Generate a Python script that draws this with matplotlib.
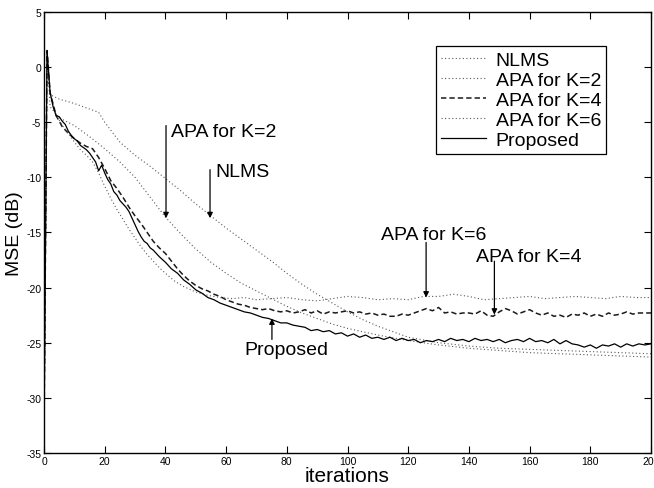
import matplotlib
matplotlib.use("Agg")
import matplotlib.pyplot as plt
from matplotlib import font_manager

# ---------------- data ----------------
nlms_x = [0, 1, 2, 5, 10, 15, 18, 20, 25, 30, 35, 40, 45, 50, 55, 60, 65, 70, 75, 80,
          85, 90, 95, 100, 105, 110, 115, 120, 130, 140, 150, 160, 170, 180, 190, 200]
nlms_y = [-33, 1.5, -2.5, -2.9, -3.3, -3.8, -4.1, -5.0, -6.8, -8.0, -9.0, -10.1, -11.2,
          -12.4, -13.5, -14.6, -15.6, -16.6, -17.6, -18.7, -19.7, -20.6, -21.4, -22.2,
          -22.9, -23.5, -24.0, -24.5, -25.0, -25.3, -25.5, -25.6, -25.7, -25.8, -25.9, -26.0]

apa2_x = [0, 1, 2, 5, 10, 15, 20, 25, 30, 35, 40, 45, 50, 55, 60, 65, 70, 75, 80, 85,
          90, 95, 100, 110, 120, 130, 140, 150, 160, 170, 180, 190, 200]
apa2_y = [-33, 1.5, -3.6, -4.6, -5.3, -6.3, -7.4, -8.6, -10.0, -11.8, -13.6, -15.1,
          -16.5, -17.7, -18.7, -19.6, -20.3, -21.0, -21.7, -22.3, -22.8, -23.3, -23.7,
          -24.3, -24.8, -25.2, -25.5, -25.7, -25.9, -26.0, -26.1, -26.2, -26.3]

apa4_x = [0, 1, 2, 4, 6, 8, 10, 12, 14, 16, 18, 20, 22, 24, 26, 28, 30, 32, 34, 36, 38,
          40, 42, 44, 46, 48, 50, 52, 54, 56, 58, 60, 62, 64, 66, 68, 70, 72, 74, 76,
          78, 80, 82, 84, 86, 88, 90, 92, 94, 96, 98, 100, 102, 104, 106, 108, 110,
          112, 114, 116, 118, 120, 122, 124, 126, 128, 130, 132, 134, 136, 138, 140,
          142, 144, 146, 148, 150, 152, 154, 156, 158, 160, 162, 164, 166, 168, 170,
          172, 174, 176, 178, 180, 182, 184, 186, 188, 190, 192, 194, 196, 198, 200]
apa4_y = [-33, 1.5, -2.3, -4.4, -5.4, -6.0, -6.5, -6.9, -7.2, -7.4, -8.2, -9.2, -10.3,
          -11.0, -11.8, -12.7, -13.5, -14.2, -15.0, -15.8, -16.4, -16.9, -17.6, -18.3,
          -18.9, -19.4, -19.8, -20.1, -20.3, -20.6, -20.8, -21.1, -21.3, -21.5, -21.6,
          -21.8, -21.9, -22.0, -21.9, -22.1, -22.2, -22.1, -22.3, -22.2, -22.0, -22.3,
          -22.1, -22.4, -22.2, -22.3, -22.2, -22.1, -22.3, -22.2, -22.4, -22.3, -22.5,
          -22.4, -22.6, -22.6, -22.4, -22.5, -22.3, -22.1, -21.9, -22.1, -21.8, -22.3,
          -22.2, -22.4, -22.3, -22.3, -22.4, -22.1, -22.5, -22.6, -22.2, -21.9, -22.1,
          -22.4, -22.2, -22.0, -22.3, -22.5, -22.3, -22.6, -22.5, -22.7, -22.4, -22.5,
          -22.3, -22.6, -22.4, -22.6, -22.3, -22.5, -22.4, -22.2, -22.4, -22.3, -22.3,
          -22.3]

apa6_x = [0, 1, 2, 4, 6, 8, 10, 12, 14, 16, 18, 20, 22, 24, 26, 28, 30, 32, 34, 36, 38,
          40, 43, 46, 50, 54, 58, 62, 66, 70, 75, 80, 85, 90, 95, 100, 105, 110, 115,
          120, 125, 130, 135, 140, 145, 150, 155, 160, 165, 170, 175, 180, 185, 190,
          195, 200]
apa6_y = [-33, 1.5, -2.4, -4.3, -5.3, -6.0, -6.8, -7.5, -8.0, -8.6, -9.6, -10.8, -11.9,
          -12.9, -13.8, -14.7, -15.5, -16.3, -17.0, -17.6, -18.2, -18.7, -19.4, -19.9,
          -20.4, -20.7, -20.9, -21.0, -20.9, -21.1, -21.0, -20.9, -21.1, -21.2, -21.0,
          -20.8, -20.9, -21.1, -21.0, -21.1, -20.8, -20.8, -20.6, -20.8, -21.1, -21.0,
          -20.9, -20.8, -21.0, -20.9, -20.8, -20.9, -21.0, -20.8, -20.9, -20.9]

prop_x = list(range(0, 36)) + list(range(36, 201, 2))
prop_y = [-33, 1.5, -2.3, -3.6, -4.4, -4.5, -4.9, -5.2, -5.8, -6.2, -6.5, -6.7, -7.1,
          -7.3, -7.5, -7.8, -8.2, -8.6, -9.4, -8.9, -9.6, -10.2, -10.6, -11.3, -11.6,
          -12.1, -12.4, -12.7, -13.1, -13.7, -14.3, -14.9, -15.4, -15.8, -16.0, -16.4,
          -16.6, -17.2, -17.7, -18.3, -18.7, -19.3, -19.7, -20.2, -20.5, -20.9, -21.1,
          -21.4, -21.6, -21.8, -22.0, -22.2, -22.3, -22.5, -22.7, -22.8, -23.0, -23.2,
          -23.2, -23.4, -23.5, -23.6, -23.9, -23.8, -24.0, -23.9, -24.2, -24.1, -24.4,
          -24.2, -24.5, -24.3, -24.6, -24.5, -24.7, -24.5, -24.8, -24.6, -24.8, -24.7,
          -25.0, -24.8, -24.9, -24.7, -24.9, -24.6, -24.8, -24.7, -24.9, -24.6, -24.8,
          -24.7, -24.9, -24.7, -25.0, -24.8, -24.7, -24.9, -24.6, -24.9, -24.8, -25.0,
          -24.7, -25.1, -24.8, -25.1, -25.2, -25.4, -25.2, -25.5, -25.2, -25.3, -25.1,
          -25.4, -25.1, -25.3, -25.1, -25.2, -25.1]

series_labels = ["NLMS", "APA for K=2", "APA for K=4", "APA for K=6", "Proposed"]
x_ticks = list(range(0, 201, 20))
y_ticks = list(range(-35, 6, 5))

# ---------------- figure ----------------
plt.rcParams['font.family'] = ['Liberation Sans', 'DejaVu Sans']
names = {f.name for f in font_manager.fontManager.ttflist}
tick_family = ['Liberation Sans Narrow', 'Liberation Sans'] if 'Liberation Sans Narrow' in names \
    else ['Liberation Sans', 'DejaVu Sans']

fig = plt.figure(figsize=(6.54, 4.89), dpi=100)
ax = fig.add_axes([0.0673, 0.0716, 0.9281, 0.9018])

dot = dict(color='0.35', linestyle=(0, (1, 2.2)), linewidth=0.8)
ax.plot(nlms_x, nlms_y, label=series_labels[0], **dot)
ax.plot(apa2_x, apa2_y, label=series_labels[1], **dot)
ax.plot(apa4_x, apa4_y, label=series_labels[2], color='0.1',
        linestyle=(0, (3.5, 2)), linewidth=1.1)
ax.plot(apa6_x, apa6_y, label=series_labels[3], **dot)
ax.plot(prop_x, prop_y, label=series_labels[4], color='black', linewidth=0.9)

ax.set_xlim(0, 200)
ax.set_ylim(-35, 5)
ax.set_xticks(x_ticks)
ax.set_yticks(y_ticks)
ax.set_yticklabels([str(v) for v in y_ticks])
ax.tick_params(direction='in', top=True, right=True, length=5, width=0.8,
               labelsize=7.5, pad=2)
for lab in ax.get_xticklabels() + ax.get_yticklabels():
    lab.set_family(tick_family)
for s in ax.spines.values():
    s.set_linewidth(1.0)

ax.set_xlabel("iterations", fontsize=15, labelpad=0)
ax.set_ylabel("MSE (dB)", fontsize=14, labelpad=2)

arrow = dict(arrowstyle='-|>', color='black', lw=0.9, mutation_scale=8,
             shrinkA=0, shrinkB=0)
fs = 14
# APA K=2
ax.annotate("", xy=(40.2, -13.7), xytext=(40.2, -5.3), arrowprops=arrow)
ax.text(41.8, -5.8, "APA for K=2", fontsize=fs, va='center', ha='left')
# NLMS
ax.annotate("", xy=(54.7, -13.7), xytext=(54.7, -9.3), arrowprops=arrow)
ax.text(56.4, -9.5, "NLMS", fontsize=fs, va='center', ha='left')
# APA K=6
ax.annotate("", xy=(125.9, -20.9), xytext=(125.9, -15.9), arrowprops=arrow)
ax.text(110.9, -15.2, "APA for K=6", fontsize=fs, va='center', ha='left')
# APA K=4
ax.annotate("", xy=(148.4, -22.45), xytext=(148.4, -17.6), arrowprops=arrow)
ax.text(142.3, -17.2, "APA for K=4", fontsize=fs, va='center', ha='left')
# Proposed
ax.annotate("", xy=(75.1, -22.8), xytext=(75.1, -24.7), arrowprops=arrow)
ax.text(65.9, -25.6, "Proposed", fontsize=fs, va='center', ha='left')

leg = ax.legend(loc='upper left', bbox_to_anchor=(0.667, 0.903),
                bbox_transform=fig.transFigure, borderaxespad=0,
                fontsize=14, frameon=True, fancybox=False, framealpha=1,
                edgecolor='black', handlelength=2.3, handletextpad=0.5,
                labelspacing=0.12, borderpad=0.25)
leg.get_frame().set_linewidth(0.9)

fig.savefig("out.png", dpi=100)
